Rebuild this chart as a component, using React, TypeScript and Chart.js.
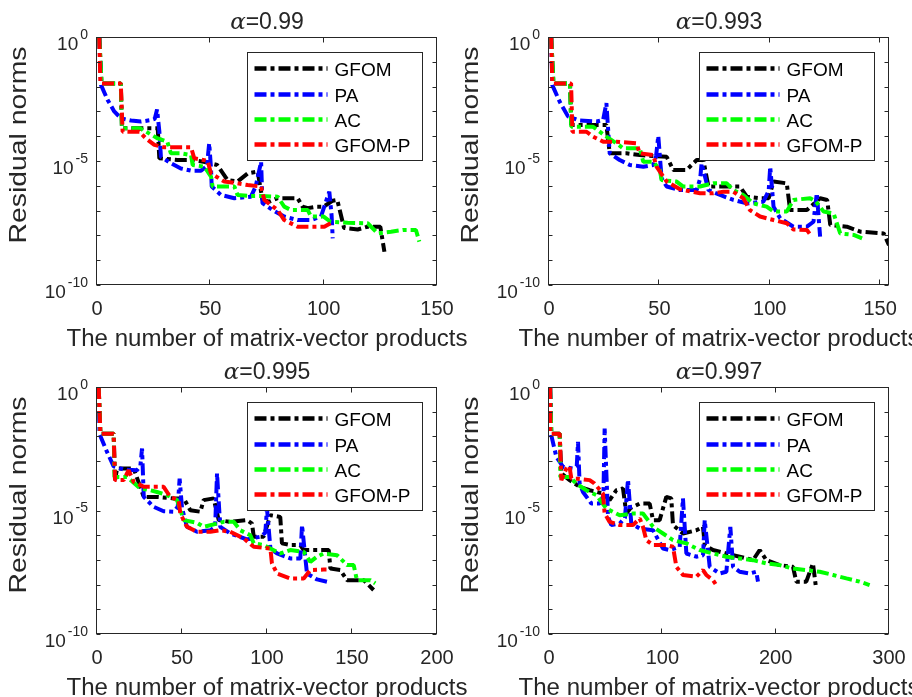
import { useEffect, useRef } from "react";
import { Chart, registerables } from "chart.js";

Chart.register(...registerables);

const W = 912;
const H = 697;

const seriesNames = ["GFOM", "PA", "AC", "GFOM-P"];
const seriesColors = ["#000000", "#0000ff", "#00ff00", "#ff0000"];
const yLabelExps = [0, -5, -10];
const yDecadeExps = [0, -1, -2, -3, -4, -5, -6, -7, -8, -9, -10];
const yLabelText = "Residual norms";
const xLabelText = "The number of matrix-vector products";

// Values are log10 of the residual norm.
// ---- alpha = 0.99 ----
const a1Alpha = "0.99";
const a1XMax = 150;
const a1XTicks = [0, 50, 100, 150];
const a1GfomX = [1, 2, 10.5, 11, 26.8, 27.5, 35.6, 41.5, 47, 53, 57.6, 62, 66.5, 70.9, 73, 76, 79.7, 88.5, 90.7, 93, 97, 100, 104, 106, 109, 115, 119.4, 125, 126.8];
const a1GfomE = [0, -1.87, -1.87, -3.68, -3.68, -4.89, -4.96, -4.96, -5.03, -5.16, -5.77, -5.83, -5.5, -5.43, -6.57, -6.64, -6.5, -6.5, -6.84, -6.9, -6.84, -6.84, -6.6, -6.57, -7.7, -7.76, -7.65, -7.65, -8.66];
const a1PaX = [1, 1.8, 4.7, 7.6, 10.6, 15, 19.4, 23.8, 25.5, 26.5, 27.5, 28.2, 32.6, 37, 41.5, 45.9, 48.5, 49.5, 50.3, 50.6, 54.7, 60.6, 67.9, 70, 72.4, 73, 77.5, 82.6, 88.5, 94.4, 98.8, 101.5, 102.5, 103.5, 104];
const a1PaE = [0, -1.94, -2.54, -3.0, -3.28, -3.37, -3.41, -3.35, -3.3, -2.92, -3.8, -4.83, -5.09, -5.3, -5.39, -5.39, -5.2, -4.29, -5.3, -6.03, -6.37, -6.5, -6.44, -6.03, -5.03, -6.7, -6.98, -7.24, -7.38, -7.38, -7.24, -6.5, -6.24, -7.2, -8.12];
const a1AcX = [1, 2, 10.5, 11, 19, 26.8, 31, 32.6, 37, 41.5, 42.2, 47.4, 50.3, 51, 56, 60.6, 62, 67.9, 72.3, 79.7, 82.6, 85.6, 93, 94.4, 100, 103, 110.6, 119.4, 123.8, 129.7, 135, 140.7, 142.2];
const a1AcE = [0, -1.87, -1.87, -3.68, -3.68, -4.09, -4.22, -4.69, -4.69, -4.76, -5.16, -5.23, -5.63, -6.03, -6.03, -6.03, -6.37, -6.41, -6.41, -6.44, -6.84, -6.98, -6.98, -7.24, -7.24, -7.45, -7.49, -7.51, -7.92, -7.85, -7.78, -7.78, -8.25];
const a1GpX = [1, 1.5, 10.5, 11.3, 18.7, 21.6, 25.3, 29.7, 41.5, 42.9, 48.8, 50.3, 56.2, 62, 66.5, 72.4, 73.8, 79.7, 82.6, 88.5, 100.3, 103];
const a1GpE = [0, -1.87, -1.87, -3.82, -3.82, -4.09, -4.35, -4.45, -4.45, -4.89, -4.99, -5.5, -5.83, -5.9, -5.97, -6.03, -6.57, -6.98, -7.38, -7.65, -7.65, -7.51];

// ---- alpha = 0.993 ----
const a2Alpha = "0.993";
const a2XMax = 154;
const a2XTicks = [0, 50, 100, 150];
const a2GfomX = [1, 2, 9.5, 10.1, 26, 27.5, 35.1, 41.1, 53.3, 56.3, 62.3, 66.9, 69.9, 72.2, 77.5, 86.5, 89.6, 95.6, 99.5, 101.7, 107.7, 109.2, 116.8, 122.8, 126, 127.4, 134.9, 141, 151.6, 154];
const a2GfomE = [0, -1.87, -1.87, -3.55, -3.55, -4.69, -4.69, -4.76, -4.83, -5.36, -5.36, -4.96, -4.96, -6.03, -6.03, -6.03, -6.44, -6.5, -6.5, -5.83, -5.9, -6.98, -6.98, -6.5, -6.57, -7.58, -7.65, -7.85, -7.92, -8.39];
const a2PaX = [1, 1.5, 4.8, 8.6, 13.9, 21.5, 24.5, 26, 27.5, 32, 36.6, 42.7, 47.2, 48.5, 49.5, 51, 53.3, 59.3, 66.9, 68.5, 69.1, 72.2, 77.5, 83.5, 89.6, 97.1, 99.5, 100.2, 101.7, 104.7, 110.7, 116.8, 119.8, 121.3, 122.8];
const a2PaE = [0, -1.94, -2.6, -3.2, -3.37, -3.41, -3.35, -2.67, -4.69, -4.96, -5.16, -5.23, -5.16, -4.8, -3.99, -5.7, -6.03, -6.17, -6.17, -5.7, -5.09, -6.17, -6.37, -6.57, -6.71, -6.64, -6.2, -5.23, -6.84, -7.31, -7.65, -7.65, -7.45, -6.3, -8.05];
const a2AcX = [1, 2, 9.5, 10.1, 20, 26, 30.6, 33.6, 41.1, 42.7, 47.2, 50.2, 51, 57.8, 60.8, 68.4, 74.4, 80.5, 83.5, 88, 92.6, 98.6, 101.7, 107.7, 110.7, 118.3, 121, 124.4, 128.9, 131.9, 138, 141.8];
const a2AcE = [0, -1.87, -1.87, -3.62, -3.62, -4.02, -4.29, -4.49, -4.49, -5.03, -5.03, -5.36, -5.77, -5.83, -6.03, -6.03, -5.9, -5.9, -6.17, -6.37, -6.71, -6.84, -7.04, -7.04, -6.57, -6.5, -6.64, -7.04, -7.11, -7.92, -7.98, -8.12];
const a2GpX = [1, 1.5, 10, 10.6, 17, 20, 24.5, 30.6, 39.6, 41.1, 47.2, 48.7, 53.3, 59.3, 68.4, 74.4, 79, 83.5, 88, 91, 95.6, 101.7, 107.7, 110.7, 116.8, 119];
const a2GpE = [0, -1.87, -1.87, -3.82, -3.82, -4.02, -4.22, -4.22, -4.29, -4.69, -4.76, -5.23, -5.83, -6.14, -6.3, -6.3, -6.24, -6.24, -6.5, -6.98, -7.24, -7.38, -7.51, -7.76, -7.78, -8.05];

// ---- alpha = 0.995 ----
const a3Alpha = "0.995";
const a3XMax = 200;
const a3XTicks = [0, 50, 100, 150, 200];
const a3GfomX = [1, 2, 9.8, 10.6, 11.8, 21.6, 27.5, 35.3, 45.1, 51, 54.9, 60.8, 62.7, 68.6, 71.6, 78.4, 88.2, 91.2, 92.2, 98, 102, 107.8, 108.8, 113.7, 119.6, 121.6, 136.3, 137.3, 143.1, 147.1, 156.9, 162.7];
const a3GfomE = [0, -1.89, -1.89, -3.77, -3.3, -3.3, -4.45, -4.45, -4.51, -4.51, -4.99, -5.05, -4.58, -4.51, -5.39, -5.46, -5.39, -5.53, -6.06, -6.06, -5.19, -5.26, -6.33, -6.4, -6.4, -6.6, -6.6, -7.35, -7.41, -7.82, -7.82, -8.22];
const a3PaX = [1, 1.5, 5.9, 9.8, 15.7, 23.5, 25.5, 26.5, 27.5, 33.3, 39.2, 45.1, 47.5, 48.6, 50, 52.9, 58.8, 66.7, 69.5, 70.6, 72.5, 78.4, 88.2, 96.1, 99, 100, 102, 105.9, 113.7, 119.6, 120.6, 123.5, 129.4, 137.3];
const a3PaE = [0, -1.9, -2.63, -3.21, -3.34, -3.37, -3.2, -2.49, -4.45, -4.85, -5.03, -5.05, -4.85, -3.71, -4.9, -5.66, -5.86, -5.8, -5.66, -3.5, -5.66, -5.93, -6.17, -6.06, -5.9, -4.92, -6.54, -6.74, -6.94, -6.94, -5.59, -7.55, -7.79, -7.92];
const a3AcX = [1, 2, 9.8, 10.3, 17.6, 25.5, 31.4, 35.3, 41.2, 47.1, 51, 58.8, 62.7, 70.6, 74.5, 80.4, 84.3, 90.2, 92.2, 98, 102, 107.8, 113.7, 121.6, 125.5, 129.4, 133.3, 141.2, 147.1, 151, 152.9, 160.8, 163.7];
const a3AcE = [0, -1.89, -1.89, -3.64, -3.64, -4.11, -4.18, -4.25, -4.38, -4.58, -5.39, -5.5, -5.66, -5.53, -5.46, -5.46, -5.8, -6.0, -6.33, -6.4, -6.54, -6.74, -6.6, -6.67, -7.08, -6.87, -6.74, -6.81, -7.21, -7.21, -7.82, -7.82, -7.95];
const a3GpX = [1, 2, 9.8, 10.6, 15.7, 18.6, 21.6, 27.5, 39.2, 43.1, 48, 49, 52.9, 58.8, 66.7, 72.5, 78.4, 86.3, 92.2, 102, 102.9, 105.9, 113.7, 121.6, 125.5, 133.3, 135];
const a3GpE = [0, -1.89, -1.89, -3.77, -3.77, -3.37, -3.84, -4.04, -4.04, -4.45, -4.58, -5.12, -5.66, -5.86, -5.86, -5.8, -5.86, -6.13, -6.47, -6.54, -7.14, -7.55, -7.75, -7.75, -7.41, -7.39, -7.39];

// ---- alpha = 0.997 ----
const a4Alpha = "0.997";
const a4XMax = 300;
const a4XTicks = [0, 100, 200, 300];
const a4GfomX = [1, 2, 9.4, 10.9, 18.2, 27, 35.9, 47.6, 53.5, 59.4, 65.3, 68.2, 72, 80, 88.8, 91.8, 97.6, 103.5, 107.9, 109.4, 118.2, 130, 135.9, 137.4, 144.7, 156.5, 168.2, 180, 185.9, 191.8, 203.5, 215.3, 218.2, 227, 232.9, 235.3];
const a4GfomE = [0, -1.89, -1.89, -3.5, -3.77, -4.04, -4.18, -4.31, -4.58, -4.18, -4.11, -5.12, -4.9, -4.72, -4.72, -5.39, -5.39, -4.45, -4.51, -5.59, -5.93, -5.8, -5.66, -6.4, -6.6, -6.74, -6.87, -7.01, -6.6, -7.01, -7.21, -7.28, -7.88, -7.88, -7.14, -8.02];
const a4PaX = [1, 2, 6.5, 12.4, 21.2, 24.5, 25.6, 27, 30, 37.4, 44.7, 48, 49.1, 52.1, 55, 62.4, 67, 69.7, 72.6, 80, 91.8, 100.6, 106.5, 115.3, 118.2, 121.2, 130, 135.9, 137.4, 141.8, 150.6, 156.5, 160, 162.4, 168.2, 177, 182.9, 184.4];
const a4PaE = [0, -1.95, -2.83, -3.23, -3.3, -3.2, -2.22, -3.9, -4.25, -4.72, -4.72, -4.4, -1.68, -5.26, -5.59, -5.53, -5.3, -3.75, -5.53, -5.73, -5.8, -6.54, -6.6, -6.47, -4.51, -6.74, -6.87, -6.81, -5.39, -7.28, -7.55, -7.48, -5.66, -7.28, -7.48, -7.55, -7.48, -7.88];
const a4AcX = [1, 2, 9.4, 10, 18.2, 24.1, 32.9, 41.8, 50.6, 62.4, 74.1, 82.9, 91.8, 100.6, 109.4, 121.2, 132.9, 144.7, 156.5, 168.2, 180, 191.8, 203.5, 215.3, 227, 238.8, 250.6, 262.4, 274.1, 282.9];
const a4AcE = [0, -1.89, -1.89, -3.64, -3.64, -3.91, -4.18, -4.38, -4.92, -5.19, -5.12, -5.12, -5.66, -5.93, -6.2, -6.33, -6.6, -6.74, -6.87, -6.94, -7.01, -7.14, -7.21, -7.35, -7.41, -7.48, -7.61, -7.75, -7.88, -8.02];
const a4GpX = [1, 1.2, 9.4, 10.9, 15.3, 18, 19.7, 24.1, 35.9, 40, 47.6, 49.1, 53.5, 62.4, 74.1, 80, 82.9, 85.9, 91.8, 103.5, 109.4, 112.4, 118.2, 130, 135.9, 138.8, 144.7, 147.6];
const a4GpE = [0, -1.89, -1.89, -3.77, -3.3, -3.2, -3.7, -3.71, -3.77, -3.9, -4.31, -5.12, -5.46, -5.59, -5.59, -5.32, -5.66, -6.2, -6.4, -6.4, -6.47, -7.28, -7.61, -7.68, -7.41, -7.61, -7.82, -8.02];

type Series = { x: number[]; e: number[] };
type Panel = {
  alpha: string;
  xMax: number;
  xTicks: number[];
  frame: { l: number; t: number; r: number; b: number };
  series: Series[];
};

const panels: Panel[] = [
  {
    alpha: a1Alpha, xMax: a1XMax, xTicks: a1XTicks,
    frame: { l: 97, t: 37, r: 437, b: 285 },
    series: [{ x: a1GfomX, e: a1GfomE }, { x: a1PaX, e: a1PaE }, { x: a1AcX, e: a1AcE }, { x: a1GpX, e: a1GpE }],
  },
  {
    alpha: a2Alpha, xMax: a2XMax, xTicks: a2XTicks,
    frame: { l: 549, t: 37, r: 889, b: 285 },
    series: [{ x: a2GfomX, e: a2GfomE }, { x: a2PaX, e: a2PaE }, { x: a2AcX, e: a2AcE }, { x: a2GpX, e: a2GpE }],
  },
  {
    alpha: a3Alpha, xMax: a3XMax, xTicks: a3XTicks,
    frame: { l: 97, t: 387, r: 437, b: 634 },
    series: [{ x: a3GfomX, e: a3GfomE }, { x: a3PaX, e: a3PaE }, { x: a3AcX, e: a3AcE }, { x: a3GpX, e: a3GpE }],
  },
  {
    alpha: a4Alpha, xMax: a4XMax, xTicks: a4XTicks,
    frame: { l: 549, t: 387, r: 889, b: 634 },
    series: [{ x: a4GfomX, e: a4GfomE }, { x: a4PaX, e: a4PaE }, { x: a4AcX, e: a4AcE }, { x: a4GpX, e: a4GpE }],
  },
];

const SANS = '"Liberation Sans", Arial, Helvetica, sans-serif';
const AXIS_COLOR = "#262626";
const DASH = [12, 4, 4, 4];
const LINE_W = 4;

function stretchText(ctx: CanvasRenderingContext2D, text: string, x: number, y: number, target: number) {
  const w = ctx.measureText(text).width;
  ctx.save();
  ctx.translate(x, y);
  ctx.scale(target / w, 1);
  ctx.textAlign = "center";
  ctx.fillText(text, 0, 0);
  ctx.restore();
}

function decorPlugin(p: Panel) {
  return {
    id: "decor",
    afterDraw(chart: any) {
      const ctx: CanvasRenderingContext2D = chart.ctx;
      const xs = chart.scales.x;
      const ys = chart.scales.y;
      const { left, top, right, bottom } = chart.chartArea;
      const L = Math.round(left) - 0.5;
      const R = Math.round(right) - 0.5;
      const T = Math.round(top) + 0.5;
      const B = Math.round(bottom) - 0.5;
      ctx.save();
      // frame
      ctx.strokeStyle = AXIS_COLOR;
      ctx.lineWidth = 1;
      ctx.setLineDash([]);
      ctx.strokeRect(L, T, R - L, B - T);
      // x ticks
      ctx.beginPath();
      for (const t of p.xTicks) {
        const px = Math.round(xs.getPixelForValue(t)) - 0.5;
        ctx.moveTo(px, B);
        ctx.lineTo(px, B - 5);
        ctx.moveTo(px, T);
        ctx.lineTo(px, T + 5);
      }
      // y decade ticks
      for (const e of yDecadeExps) {
        const py = Math.round(ys.getPixelForValue(Math.pow(10, e))) + 0.5;
        ctx.moveTo(L, py);
        ctx.lineTo(L + 4, py);
        ctx.moveTo(R, py);
        ctx.lineTo(R - 4, py);
      }
      ctx.stroke();

      ctx.fillStyle = AXIS_COLOR;
      // x tick labels
      ctx.font = `20px ${SANS}`;
      ctx.textAlign = "center";
      ctx.textBaseline = "alphabetic";
      for (const t of p.xTicks) {
        const px = xs.getPixelForValue(t);
        ctx.fillText(String(t), px, bottom + 29.5);
      }
      // y tick labels 10^e
      for (const e of yLabelExps) {
        const py = ys.getPixelForValue(Math.pow(10, e));
        ctx.font = `14px ${SANS}`;
        ctx.textAlign = "right";
        const expStr = String(e);
        const expW = ctx.measureText(expStr).width;
        const expRight = left - 9;
        ctx.fillText(expStr, expRight, py + 1.5);
        ctx.font = `19px ${SANS}`;
        ctx.fillText("10", expRight - expW - 2, py + 13);
      }
      // title
      ctx.textAlign = "left";
      const cx = (left + right) / 2;
      ctx.font = `italic 23px "DejaVu Serif", "Liberation Serif", serif`;
      const aW = ctx.measureText("\u03b1").width;
      ctx.font = `23px ${SANS}`;
      const restText = "=" + p.alpha;
      const rW = ctx.measureText(restText).width;
      const startX = cx - (aW + rW) / 2;
      ctx.font = `italic 23px "DejaVu Serif", "Liberation Serif", serif`;
      ctx.fillText("\u03b1", startX, top - 8.5);
      ctx.font = `23px ${SANS}`;
      ctx.fillText(restText, startX + aW, top - 8.5);
      // x label
      ctx.font = `23px ${SANS}`;
      stretchText(ctx, xLabelText, cx, bottom + 60.5, 401);
      // y label
      ctx.save();
      ctx.translate(left - 71, top + 108);
      ctx.rotate(-Math.PI / 2);
      ctx.font = `24px ${SANS}`;
      stretchText(ctx, yLabelText, 0, 0, 197);
      ctx.restore();

      // legend
      const bw = 175;
      const bh = 108;
      const bx = Math.round(right) - 15 - bw + 0.5;
      const by = Math.round(top) + 15.5;
      ctx.fillStyle = "#ffffff";
      ctx.fillRect(bx, by, bw, bh);
      ctx.strokeStyle = AXIS_COLOR;
      ctx.lineWidth = 1;
      ctx.strokeRect(bx, by, bw, bh);
      const rows = [16, 42, 67, 92];
      seriesNames.forEach((name, i) => {
        const ry = by + rows[i];
        ctx.strokeStyle = seriesColors[i];
        ctx.lineWidth = LINE_W + 0.5;
        ctx.setLineDash(DASH);
        ctx.lineDashOffset = 0;
        ctx.beginPath();
        ctx.moveTo(bx + 7, ry);
        ctx.lineTo(bx + 80, ry);
        ctx.stroke();
        ctx.setLineDash([]);
        ctx.fillStyle = "#000000";
        ctx.font = `19px ${SANS}`;
        ctx.textAlign = "left";
        ctx.fillText(name, bx + 87, ry + 7);
      });
      ctx.restore();
    },
  };
}

function makeChart(canvas: HTMLCanvasElement, p: Panel) {
  const datasets = p.series.map((s, i) => ({
    label: seriesNames[i],
    data: s.x.map((x, k) => ({ x, y: Math.pow(10, s.e[k]) })),
    borderColor: seriesColors[i],
    backgroundColor: seriesColors[i],
    borderWidth: LINE_W,
    borderDash: DASH,
    borderCapStyle: "butt",
    borderJoinStyle: "bevel",
    pointRadius: 0,
    pointHoverRadius: 0,
    fill: false,
    tension: 0,
    order: 3 - i,
  }));
  return new Chart(canvas, {
    type: "line",
    data: { datasets } as any,
    options: {
      animation: false,
      responsive: false,
      maintainAspectRatio: false,
      devicePixelRatio: 1,
      events: [],
      layout: {
        padding: { left: p.frame.l, top: p.frame.t, right: W - p.frame.r, bottom: H - p.frame.b },
      },
      plugins: {
        legend: { display: false },
        tooltip: { enabled: false },
        title: { display: false },
      },
      scales: {
        x: { type: "linear", min: 0, max: p.xMax, display: false },
        y: { type: "logarithmic", min: 1e-10, max: 1, display: false },
      },
    } as any,
    plugins: [decorPlugin(p) as any],
  });
}

export default function App() {
  const r0 = useRef<HTMLCanvasElement>(null);
  const r1 = useRef<HTMLCanvasElement>(null);
  const r2 = useRef<HTMLCanvasElement>(null);
  const r3 = useRef<HTMLCanvasElement>(null);
  const refs = [r0, r1, r2, r3];
  useEffect(() => {
    const charts = panels.map((p, i) => makeChart(refs[i].current as HTMLCanvasElement, p));
    return () => charts.forEach((c) => c.destroy());
  }, []);
  return (
    <div style={{ position: "absolute", left: 0, top: 0, width: W, height: H, background: "#ffffff", overflow: "hidden" }}>
      {panels.map((_, i) => (
        <canvas
          key={i}
          ref={refs[i]}
          width={W}
          height={H}
          style={{ position: "absolute", left: 0, top: 0, width: W, height: H }}
        />
      ))}
    </div>
  );
}
